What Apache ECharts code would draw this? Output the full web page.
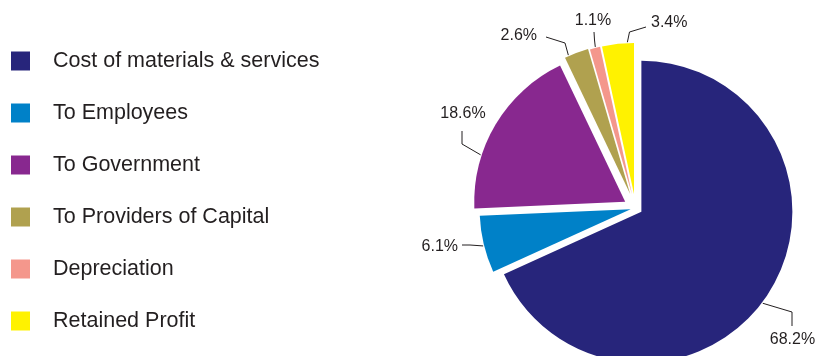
<!DOCTYPE html>
<html>
<head>
<meta charset="utf-8">
<script src="https://cdn.jsdelivr.net/npm/echarts@6/dist/echarts.min.js"></script>
<style>
  html, body { margin: 0; padding: 0; background: #ffffff; }
  #chart { width: 816px; height: 356px; }
</style>
</head>
<body>
<div id="chart"></div>
<script>
// Distribution of value added (percent of total)
const categories = [
  'Cost of materials & services',
  'To Employees',
  'To Government',
  'To Providers of Capital',
  'Depreciation',
  'Retained Profit'
];
const shares = [68.2, 6.1, 18.6, 2.6, 1.1, 3.4];
const sliceColors = ['#27257b', '#0081c8', '#88288f', '#b0a14f', '#f4978c', '#fff200'];

// Pie geometry: each slice is pulled out from the common centre by its own distance
const PIE_CX = 635.5, PIE_CY = 208, PIE_R = 151;
const explodeBy = [7, 5, 12, 15, 14, 14];

// Callout placement for each slice: where the leader leaves the rim
// (degrees clockwise from 12 o'clock), its bend/end points and the text anchor.
const callouts = [
  { rim: 127,   path: [[792, 312], [792, 326]], at: [792.5, 340], align: 'center' },
  { rim: 256,   path: [[470, 245], [462, 245]], at: [458, 247],   align: 'right' },
  { rim: 288,   path: [[462, 144], [462, 131]], at: [463, 114],   align: 'center' },
  { rim: 336,   path: [[565, 43], [546, 37]],   at: [537, 36],    align: 'right' },
  { rim: 346,   path: [[594.5, 40], [594, 32]], at: [593, 20.5],  align: 'center' },
  { rim: 357.5, path: [[629.5, 32], [646, 27]], at: [651, 23],    align: 'left' }
];

const total = shares.reduce((a, b) => a + b, 0);
const deg = Math.PI / 180;
function dirOf(a) { return [Math.sin(a * deg), -Math.cos(a * deg)]; }

// centre of each exploded slice (moved outwards along its bisector)
const sliceCentres = [];
{
  let cum = 0;
  shares.forEach((v, i) => {
    const mid = (cum + v / 2) / total * 360;
    const d = dirOf(mid);
    sliceCentres.push([PIE_CX + explodeBy[i] * d[0], PIE_CY + explodeBy[i] * d[1]]);
    cum += v;
  });
}

const labelFont = '"Liberation Sans", Arial, sans-serif';

// one pie per slice, sharing the same data so the angles stay identical;
// only the owning slice of each pie is painted
const pieSeries = categories.map((ownName, k) => ({
  type: 'pie',
  name: ownName,
  center: sliceCentres[k],
  radius: PIE_R,
  startAngle: 90,
  clockwise: true,
  avoidLabelOverlap: false,
  silent: true,
  emphasis: { disabled: true },
  label: {
    show: true,
    position: 'outside',
    fontFamily: labelFont,
    fontSize: 16,
    color: '#231f20',
    formatter: p => p.value.toFixed(1) + '%'
  },
  labelLine: {
    show: true,
    lineStyle: { color: '#231f20', width: 1 }
  },
  labelLayout: function () {
    const c = callouts[k];
    const a = sliceCentres[k];
    const d = dirOf(c.rim);
    const start = [a[0] + (PIE_R + 1) * d[0], a[1] + (PIE_R + 1) * d[1]];
    return {
      x: c.at[0],
      y: c.at[1],
      align: c.align,
      verticalAlign: 'middle',
      labelLinePoints: [start].concat(c.path)
    };
  },
  data: categories.map((name, i) => i === k
    ? { name: name, value: shares[i], itemStyle: { color: sliceColors[i] } }
    : {
        name: name,
        value: shares[i],
        itemStyle: { color: sliceColors[i], opacity: 0 },
        label: { show: false },
        labelLine: { show: false }
      })
}));

const chart = echarts.init(document.getElementById('chart'), null, { renderer: 'canvas' });

chart.setOption({
  animation: false,
  backgroundColor: '#ffffff',
  color: sliceColors,
  legend: {
    orient: 'vertical',
    left: 11,
    top: 50,
    padding: 0,
    itemWidth: 19,
    itemHeight: 19,
    itemGap: 30,
    icon: 'rect',
    selectedMode: false,
    data: categories.map((name, i) => ({
      name: name,
      itemStyle: { color: sliceColors[i], opacity: 1 }
    })),
    textStyle: {
      fontFamily: labelFont,
      fontSize: 21.5,
      lineHeight: 22,
      color: '#231f20',
      padding: [0, 0, 0, 18]
    }
  },
  series: pieSeries
});
</script>
</body>
</html>
